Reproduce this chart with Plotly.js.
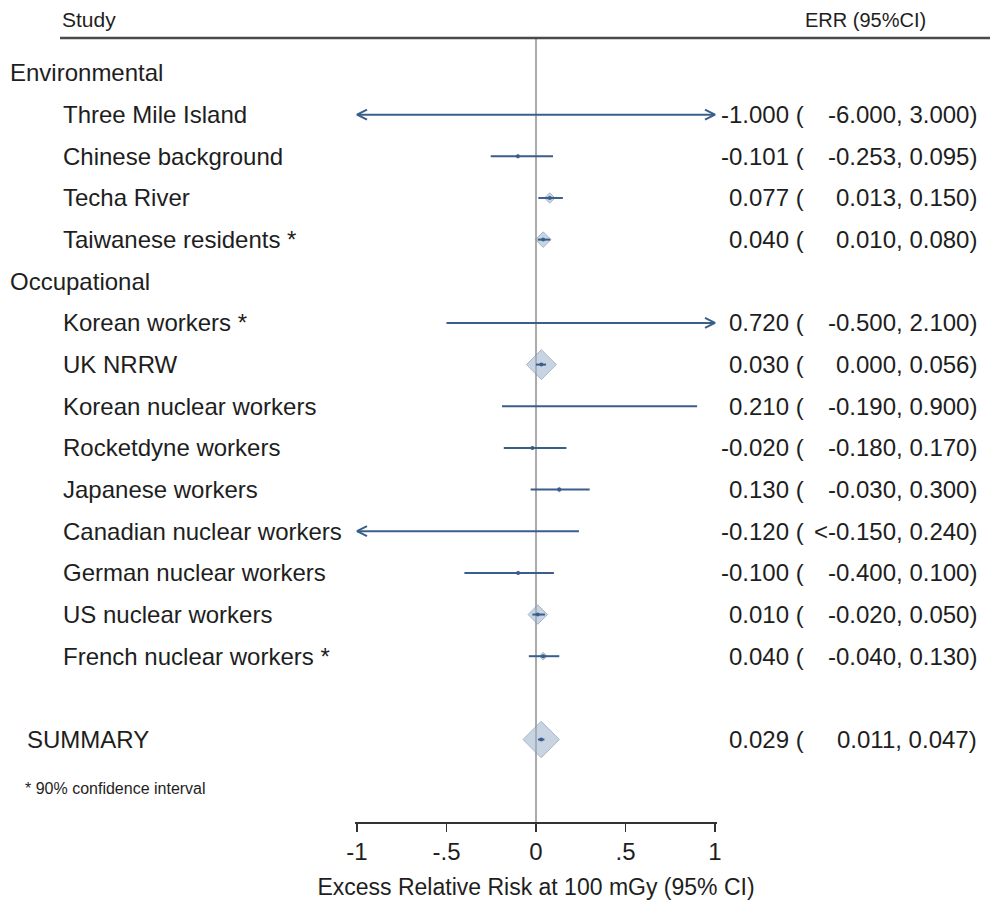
<!DOCTYPE html>
<html>
<head>
<meta charset="utf-8">
<script src="https://cdn.plot.ly/plotly-3.0.1.min.js"></script>
<style>html,body{margin:0;padding:0;background:#fff;}</style>
</head>
<body>
<div id="chart" style="width:990px;height:900px;"></div>
<script>
// ---------------- DATA ----------------
const labels = ['Environmental','Three Mile Island','Chinese background','Techa River','Taiwanese residents *',
  'Occupational','Korean workers *','UK NRRW','Korean nuclear workers','Rocketdyne workers','Japanese workers',
  'Canadian nuclear workers','German nuclear workers','US nuclear workers','French nuclear workers *','','SUMMARY'];
const rowType = ['group','study','study','study','study','group','study','study','study','study','study',
  'study','study','study','study','blank','summary'];
const err    = [null,-1.000,-0.101,0.077,0.040,null,0.720,0.030,0.210,-0.020,0.130,-0.120,-0.100,0.010,0.040,null,0.029];
const ciLow  = [null,-6.000,-0.253,0.013,0.010,null,-0.500,0.000,-0.190,-0.180,-0.030,-0.150,-0.400,-0.020,-0.040,null,0.011];
const ciHigh = [null, 3.000, 0.095,0.150,0.080,null, 2.100,0.056, 0.900, 0.170, 0.300, 0.240, 0.100, 0.050, 0.130,null,0.047];
const lowCensored = [false,false,false,false,false,false,false,false,false,false,false,true,false,false,false,false,false];
const weight = [null,0,3,8,12,null,0,23,0,3,4,0,3,15,6,null,28];
const tickVals = [-1,-0.5,0,0.5,1];
const tickText = ['-1','-.5','0','.5','1'];
const headerStudy = 'Study';
const headerErr = 'ERR (95%CI)';
const xTitle = 'Excess Relative Risk at 100 mGy (95% CI)';
const footNote = '* 90% confidence interval';

// ---------------- LAYOUT CONSTANTS ----------------
const W = 990, H = 900;
const ML = 355, MR = 273, MT = 38, MB = 78;
const plotW = W - ML - MR;
const xMin = -1, xMax = 1;
const pxPerUnit = 179;
const half = (plotW / 2) / pxPerUnit;
const yTop = -0.84, yBot = 17.98;
const pxPerRow = (H - MT - MB) / (yBot - yTop);
const px2paper = px => (px - ML) / plotW;
const FONT = 'Liberation Sans, Arial, sans-serif';
const TXT = '#1e1e1e';
const LINE = '#3a5e8c';
const FS = 24;

// ---------------- TRACES ----------------
const ciX = [], ciY = [], arX = [], arY = [];
const ax = 10 / pxPerUnit, ay = 5 / pxPerRow;
const dX = [], dY = [], dS = [], pX = [], pY = [];
err.forEach((e, i) => {
  if (e === null) return;
  let lo = ciLow[i], hi = ciHigh[i];
  let loArrow = lowCensored[i] || lo < xMin, hiArrow = hi > xMax;
  const a = loArrow ? xMin : lo;
  const b = hiArrow ? xMax : hi;
  ciX.push(a, b, null); ciY.push(i, i, null);
  if (loArrow) { arX.push(a + ax, a, a + ax, null); arY.push(i - ay, i, i + ay, null); }
  if (hiArrow) { arX.push(b - ax, b, b - ax, null); arY.push(i - ay, i, i + ay, null); }
  if (weight[i] > 0) {
    dX.push(e); dY.push(i); dS.push(weight[i]);
    pX.push(e); pY.push(i);
  }
});

const traces = [
  { type: 'scatter', mode: 'markers', x: dX, y: dY, hoverinfo: 'skip', cliponaxis: false,
    marker: { symbol: 'diamond', size: dS, color: 'rgba(160,180,204,0.8)', line: { color: 'rgba(120,144,172,0.9)', width: 1 } } },
  { type: 'scatter', mode: 'lines', x: ciX, y: ciY, hoverinfo: 'skip',
    line: { color: LINE, width: 2 } },
  { type: 'scatter', mode: 'lines', x: arX, y: arY, hoverinfo: 'skip',
    line: { color: LINE, width: 2 } },
  { type: 'scatter', mode: 'markers', x: pX, y: pY, hoverinfo: 'skip', cliponaxis: false,
    marker: { symbol: 'circle', size: 4, color: LINE } }
];

// ---------------- ANNOTATIONS ----------------
const ann = [];
const txt = (text, px, y, anchor, size, fam) => ann.push({
  text: text, xref: 'paper', yref: 'y', x: px2paper(px), y: y, xanchor: anchor, yanchor: 'middle',
  showarrow: false, font: { family: fam || FONT, size: size, color: TXT }
});
labels.forEach((l, i) => {
  if (rowType[i] === 'group') txt(l, 8, i, 'left', FS);
  else if (rowType[i] === 'study') txt(l, 61, i, 'left', FS);
  else if (rowType[i] === 'summary') txt(l, 25, i, 'left', FS);
  if (err[i] !== null) {
    txt(err[i].toFixed(3) + ' (', 806, i, 'right', FS);
    const loTxt = (lowCensored[i] ? '<' : '') + ciLow[i].toFixed(3);
    txt(loTxt + ', ' + ciHigh[i].toFixed(3) + ')', 979, i, 'right', FS);
  }
});
txt(footNote, 23, 17.17, 'left', 16);
// headers
ann.push({ text: headerStudy, xref: 'paper', yref: 'paper', x: px2paper(60), y: 1 + 18 / (H - MT - MB),
  xanchor: 'left', yanchor: 'middle', showarrow: false, font: { family: FONT, size: 21, color: TXT } });
ann.push({ text: headerErr, xref: 'paper', yref: 'paper', x: px2paper(928), y: 1 + 18 / (H - MT - MB),
  xanchor: 'right', yanchor: 'middle', showarrow: false, font: { family: FONT, size: 20, color: TXT } });

const shapes = [
  { type: 'line', xref: 'paper', yref: 'paper', x0: px2paper(60), x1: px2paper(990), y0: 1, y1: 1,
    line: { color: '#4a4a4a', width: 2.5 } },
  { type: 'line', xref: 'x', yref: 'paper', x0: 0, x1: 0, y0: 0, y1: 1, layer: 'below',
    line: { color: '#8f8f8f', width: 1.5 } }
];

const layout = {
  width: W, height: H,
  margin: { l: ML, r: MR, t: MT, b: MB, pad: 0 },
  paper_bgcolor: '#fff', plot_bgcolor: '#fff',
  showlegend: false,
  font: { family: FONT, color: TXT },
  xaxis: {
    range: [-half, half], tickvals: tickVals, ticktext: tickText,
    showgrid: false, zeroline: false, showline: true, linecolor: '#333', linewidth: 1.5,
    ticks: 'outside', ticklen: 8, tickwidth: 1.5, tickcolor: '#333',
    tickfont: { family: FONT, size: FS, color: TXT },
    title: { text: xTitle, font: { family: FONT, size: 23, color: TXT }, standoff: 14 },
    fixedrange: true
  },
  yaxis: {
    range: [yBot, yTop], visible: false, showgrid: false, zeroline: false, fixedrange: true
  },
  annotations: ann,
  shapes: shapes
};

Plotly.newPlot('chart', traces, layout, { displayModeBar: false, staticPlot: true });
</script>
</body>
</html>
